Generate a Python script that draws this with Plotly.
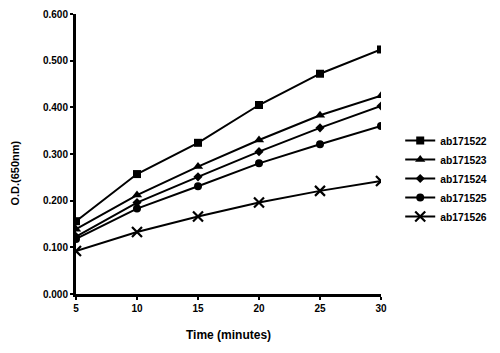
import plotly.graph_objects as go

time_min = [5, 10, 15, 20, 25, 30]
series_names = ["ab171522", "ab171523", "ab171524", "ab171525", "ab171526"]
ab171522 = [0.156, 0.257, 0.324, 0.405, 0.472, 0.524]
ab171523 = [0.139, 0.212, 0.273, 0.330, 0.383, 0.425]
ab171524 = [0.123, 0.196, 0.251, 0.305, 0.356, 0.403]
ab171525 = [0.118, 0.183, 0.231, 0.280, 0.321, 0.360]
ab171526 = [0.092, 0.133, 0.166, 0.196, 0.221, 0.242]
y_ticks = [0.0, 0.1, 0.2, 0.3, 0.4, 0.5, 0.6]
y_tick_labels = ["0.000", "0.100", "0.200", "0.300", "0.400", "0.500", "0.600"]
x_ticks = [5, 10, 15, 20, 25, 30]

values = [ab171522, ab171523, ab171524, ab171525, ab171526]
symbols = ["square", "triangle-up", "diamond", "circle", "x-thin"]
sizes = [8, 9, 7, 8, 10]

fig = go.Figure()
for name, vals, sym, sz in zip(series_names, values, symbols, sizes):
    marker = dict(symbol=sym, size=sz, color="black")
    if sym == "x-thin":
        marker["line"] = dict(color="black", width=2.2)
    fig.add_trace(go.Scatter(
        x=time_min, y=vals, name=name, mode="lines+markers",
        line=dict(color="black", width=2), marker=marker,
    ))

font_fam = "Arial, Liberation Sans, sans-serif"
fig.update_layout(
    width=500, height=353,
    margin=dict(l=76, r=119, t=14, b=59, autoexpand=False),
    paper_bgcolor="white", plot_bgcolor="white",
    font=dict(family=font_fam, size=10, color="black", weight="bold"),
    showlegend=True,
    legend=dict(
        x=1.063, y=0.60, xanchor="left", yanchor="top",
        font=dict(family=font_fam, size=10.3, color="black", weight="bold"),
        itemwidth=30, tracegroupgap=0, bgcolor="rgba(0,0,0,0)",
    ),
    xaxis=dict(
        range=[5, 30], tickvals=x_ticks, showgrid=False, zeroline=False,
        showline=True, linecolor="black", linewidth=3,
        ticks="outside", ticklen=3, tickwidth=2, tickcolor="black",
        tickfont=dict(size=10, family=font_fam, weight="bold"),
        title=dict(text="Time (minutes)", font=dict(size=12, family=font_fam, weight="bold"), standoff=18),
    ),
    yaxis=dict(
        range=[0, 0.6], tickvals=y_ticks, ticktext=y_tick_labels, showgrid=False, zeroline=False,
        showline=True, linecolor="black", linewidth=3,
        ticks="outside", ticklen=3, tickwidth=2, tickcolor="black",
        tickfont=dict(size=10, family=font_fam, weight="bold"),
    ),
    annotations=[dict(
        text="O.D.(650nm)", xref="paper", yref="paper",
        x=-0.2, y=0.43, xanchor="center", yanchor="middle",
        textangle=-90, showarrow=False,
        font=dict(size=11, family=font_fam, color="black"),
    )],
)

fig.write_html("out.html")
